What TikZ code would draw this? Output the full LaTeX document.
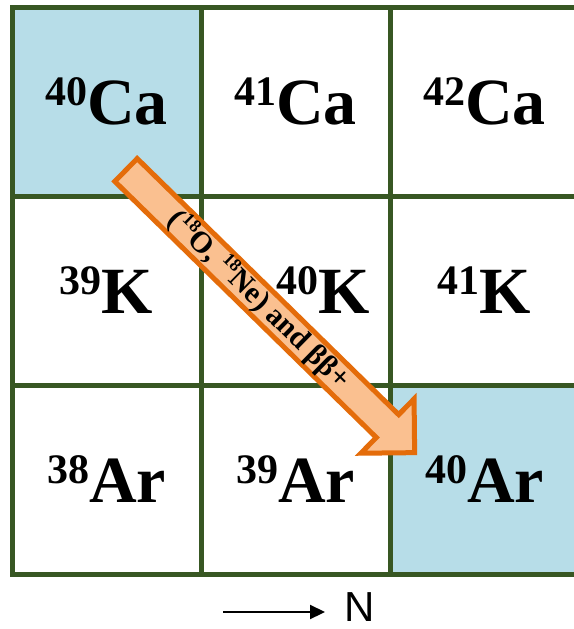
\documentclass[tikz,border=0pt]{standalone}
\usepackage{fontspec}
\setmainfont{Liberation Serif}[BoldFont={Liberation Serif Bold}]
\newfontfamily\labelfont{Liberation Serif}[BoldFont={Liberation Serif Bold}]
\newfontfamily\axisfont{Liberation Sans}
\usetikzlibrary{arrows.meta}
\definecolor{gridgreen}{HTML}{385723}
\definecolor{cellblue}{HTML}{B7DDE8}
\definecolor{arrowline}{HTML}{E46C0A}
\definecolor{arrowfill}{HTML}{FAC090}
\newcommand{\isotope}[2]{\labelfont\bfseries\raisebox{19pt}{\fontsize{42}{42}\selectfont #1}\fontsize{66}{66}\selectfont #2}
\newcommand{\smallsup}[1]{\raisebox{0.36em}{\fontsize{18}{18}\selectfont #1}}
\begin{document}
\begin{tikzpicture}[x=1pt,y=-1pt,
  cellbox/.style={draw=gridgreen, line width=5pt, minimum size=189pt, inner sep=0pt, outer sep=0pt, fill=white},
  bluecell/.style={cellbox, fill=cellblue},
  isolabel/.style={inner sep=0pt},
  bigarrow/.style={line width=5pt, draw=arrowline, fill=arrowfill, line join=miter},
  arrowtext/.style={inner sep=0pt, font=\labelfont\bfseries\fontsize{30}{30}\selectfont}]
\useasboundingbox (0,0) rectangle (573,629);
% cells
\node[bluecell] (c11) at (106.5,101.5) {};
\node[cellbox]  (c12) at (295.5,101.5) {};
\node[cellbox]  (c13) at (484.5,101.5) {};
\node[cellbox]  (c21) at (106.5,290.5) {};
\node[cellbox]  (c22) at (295.5,290.5) {};
\node[cellbox]  (c23) at (484.5,290.5) {};
\node[cellbox]  (c31) at (106.5,479.5) {};
\node[cellbox]  (c32) at (295.5,479.5) {};
\node[bluecell] (c33) at (484.5,479.5) {};
% labels
\node[isolabel] (t11) at (c11) {\isotope{40}{Ca}};
\node[isolabel] (t12) at (c12) {\isotope{41}{Ca}};
\node[isolabel] (t13) at (c13) {\isotope{42}{Ca}};
\node[isolabel] (t21) at (c21) {\isotope{39}{K}};
\node[isolabel] (t22) at ([xshift=28pt]c22.center) {\isotope{40}{K}};
\node[isolabel] (t23) at (c23) {\isotope{41}{K}};
\node[isolabel] (t31) at (c31) {\isotope{38}{Ar}};
\node[isolabel] (t32) at (c32) {\isotope{39}{Ar}};
\node[isolabel] (t33) at (c33) {\isotope{40}{Ar}};
% block arrow
\begin{scope}[shift={(126,170)}, rotate=-44.4]
  \draw[bigarrow] (0,-16) -- (366,-16) -- (366,-38) -- (404,0) -- (366,38) -- (366,16) -- (0,16) -- cycle;
  \node[arrowtext, rotate=-44.4] (alabel) at (186,0) {(\smallsup{18}O, \smallsup{18}Ne) and ββ+};
\end{scope}
% N axis
\coordinate (nstart) at (223,612);
\coordinate (nend) at (325,612);
\draw[line width=2.2pt, -{Triangle[length=15pt,width=14pt]}] (nstart) -- (nend);
\node[inner sep=0pt, font=\axisfont\fontsize{42}{42}\selectfont] (nlabel) at (360,607) {N};
\end{tikzpicture}
\end{document}
